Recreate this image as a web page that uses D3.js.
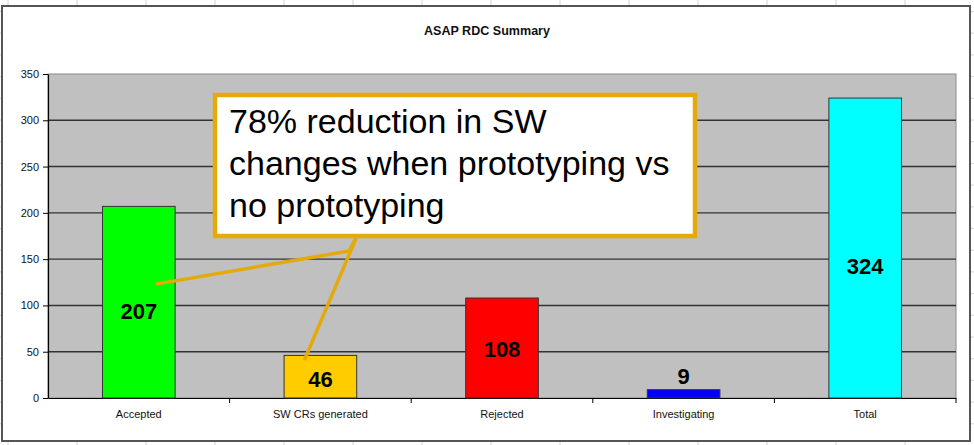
<!DOCTYPE html>
<html>
<head>
<meta charset="utf-8">
<script src="https://cdn.jsdelivr.net/npm/d3@7"></script>
<style>
  html, body { margin: 0; padding: 0; background: #fff; }
  svg { display: block; }
  text { font-family: "Liberation Sans", Arial, sans-serif; }
</style>
</head>
<body>
<svg id="chart" width="974" height="445"></svg>
<script>
// ---- data ----
const categories = ["Accepted", "SW CRs generated", "Rejected", "Investigating", "Total"];
const values = [207, 46, 108, 9, 324];
const barColors = ["#00FF00", "#FFCC00", "#FF0000", "#0000FF", "#00FFFF"];
const labelAt = [94, 20, 53, 24, 143];   // value-axis level where each data label sits
const yTicks = [0, 50, 100, 150, 200, 250, 300, 350];
const title = "ASAP RDC Summary";
const calloutLines = ["78% reduction in SW", "changes when prototyping vs", "no prototyping"];

// ---- layout ----
const W = 974, H = 445;
const frame = {x0: 2, y0: 6, x1: 970, y1: 441};
const plot = {left: 48, right: 956, top: 74, bottom: 398};

const svg = d3.select("#chart");

// spreadsheet grid behind the chart object
const sheet = svg.append("g");
d3.range(8, W, 69).forEach(x => sheet.append("line")
  .attr("x1", x).attr("x2", x).attr("y1", 0).attr("y2", H)
  .attr("stroke", "#d4d4d4").attr("stroke-width", 1));
d3.range(11.5, H, 21.7).forEach(y => sheet.append("line")
  .attr("x1", 0).attr("x2", W).attr("y1", y).attr("y2", y)
  .attr("stroke", "#d4d4d4").attr("stroke-width", 1));

// chart object
svg.append("rect")
  .attr("x", frame.x0).attr("y", frame.y0)
  .attr("width", frame.x1 - frame.x0).attr("height", frame.y1 - frame.y0)
  .attr("fill", "#fff").attr("stroke", "#555").attr("stroke-width", 2);

const x = d3.scaleBand().domain(categories).range([plot.left, plot.right]).paddingInner(0.6).paddingOuter(0.3);
const xOuter = d3.scaleBand().domain(categories).range([plot.left, plot.right]);
const y = d3.scaleLinear().domain([0, 350]).range([plot.bottom, plot.top]);

// plot area
svg.append("rect")
  .attr("x", plot.left).attr("y", plot.top)
  .attr("width", plot.right - plot.left).attr("height", plot.bottom - plot.top)
  .attr("fill", "#C0C0C0").attr("stroke", "#8a8a8a").attr("stroke-width", 1);

// gridlines
svg.append("g").selectAll("line").data(yTicks.filter(t => t > 0 && t < 350)).join("line")
  .attr("x1", plot.left).attr("x2", plot.right)
  .attr("y1", d => y(d)).attr("y2", d => y(d))
  .attr("stroke", "#333").attr("stroke-width", 1.4);

// title
svg.append("text")
  .attr("x", 487).attr("y", 35)
  .attr("text-anchor", "middle")
  .attr("font-size", 12.5).attr("font-weight", "bold")
  .attr("fill", "#111")
  .attr("textLength", 126).attr("lengthAdjust", "spacingAndGlyphs")
  .text(title);

// y axis
const yAxis = svg.append("g")
  .attr("transform", `translate(${plot.left},0)`)
  .call(d3.axisLeft(y).tickValues(yTicks).tickSize(5).tickSizeOuter(0).tickPadding(4));
yAxis.select(".domain").attr("stroke", "#000").attr("stroke-width", 1.2);
yAxis.selectAll(".tick line").attr("stroke", "#000");
yAxis.selectAll(".tick text").attr("font-size", 11).attr("fill", "#111")
  .attr("font-family", "'Liberation Sans', Arial, sans-serif");

// x axis
const xAxis = svg.append("g")
  .attr("transform", `translate(0,${plot.bottom})`)
  .call(d3.axisBottom(xOuter).tickSize(0).tickPadding(12));
xAxis.select(".domain").attr("stroke", "#000").attr("stroke-width", 1.2);
xAxis.selectAll(".tick text").attr("font-size", 11).attr("fill", "#111")
  .attr("font-family", "'Liberation Sans', Arial, sans-serif");
// category boundary ticks
svg.append("g").selectAll("line").data(categories.slice(1)).join("line")
  .attr("x1", d => xOuter(d)).attr("x2", d => xOuter(d))
  .attr("y1", plot.bottom).attr("y2", plot.bottom + 5)
  .attr("stroke", "#000");
svg.append("line")
  .attr("x1", plot.right).attr("x2", plot.right)
  .attr("y1", plot.bottom).attr("y2", plot.bottom + 5)
  .attr("stroke", "#000");

// bars
svg.append("g").selectAll("rect").data(values).join("rect")
  .attr("x", (d, i) => x(categories[i]))
  .attr("y", d => y(d))
  .attr("width", x.bandwidth())
  .attr("height", d => y(0) - y(d))
  .attr("fill", (d, i) => barColors[i])
  .attr("stroke", "#333").attr("stroke-width", 1);

// data labels
svg.append("g").selectAll("text").data(values).join("text")
  .attr("x", (d, i) => x(categories[i]) + x.bandwidth() / 2)
  .attr("y", (d, i) => y(labelAt[i]))
  .attr("dy", "0.36em")
  .attr("text-anchor", "middle")
  .attr("font-size", 22).attr("font-weight", "bold").attr("fill", "#000")
  .text(d => d);

// callout leader lines
const gold = "#E3AA0A";
const box = {x: 215, y: 95, w: 480, h: 141};
const join = [357, box.y + box.h];
const acc = [x(categories[0]) + x.bandwidth() / 2 + 17, y(123)];
const sw = [x(categories[1]) + x.bandwidth() / 2 - 16, y(41)];
svg.append("path")
  .attr("d", d3.line()([join, [349, 251], acc]))
  .attr("fill", "none").attr("stroke", gold).attr("stroke-width", 3.5);
svg.append("path")
  .attr("d", d3.line()([join, sw]))
  .attr("fill", "none").attr("stroke", gold).attr("stroke-width", 3.5);

// callout box
svg.append("rect")
  .attr("x", box.x).attr("y", box.y).attr("width", box.w).attr("height", box.h)
  .attr("fill", "#fff").attr("stroke", gold).attr("stroke-width", 4.5);
svg.append("g").selectAll("text").data(calloutLines).join("text")
  .attr("x", 229)
  .attr("y", (d, i) => 133 + i * 42)
  .attr("font-size", 34).attr("fill", "#000")
  .text(d => d);
</script>
</body>
</html>
